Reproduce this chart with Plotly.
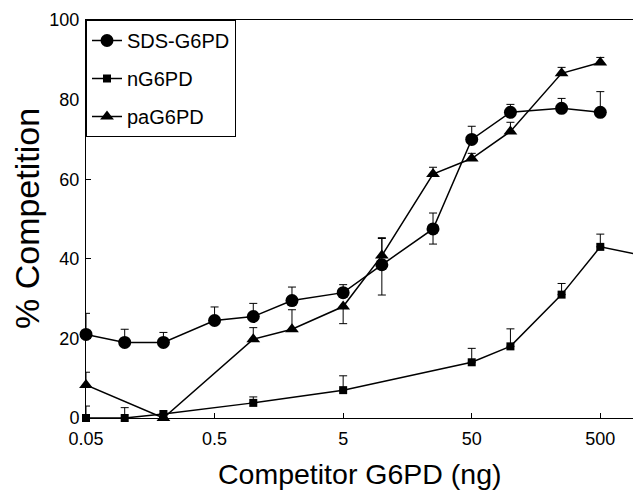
import plotly.graph_objects as go
import math

# SDS-G6PD
sds_x = [0.05, 0.1, 0.2, 0.5, 1, 2, 5, 10, 25, 50, 100, 250, 500]
sds_y = [21, 19, 19, 24.5, 25.5, 29.5, 31.5, 38.5, 47.5, 70, 76.8, 77.8, 76.8]
sds_err_up = [5.3, 3.3, 2.5, 3.4, 3.3, 3.4, 2.0, 6.8, 4.0, 3.3, 2.0, 2.5, 5.2]
sds_err_dn = [0, 0, 0, 0, 0, 0, 0, 7.6, 3.8, 0, 0, 0, 0]

# nG6PD
n_x = [0.05, 0.1, 0.2, 1, 5, 50, 100, 250, 500, 1000]
n_y = [0, 0, 1, 3.8, 7, 14, 18, 31, 43, 41]
n_err_up = [3.0, 2.6, 0, 1.5, 3.6, 3.5, 4.4, 2.8, 3.2, 4.0]
n_err_dn = [0, 0, 0, 0, 0, 0, 0, 0, 0, 0]

# paG6PD
pa_x = [0.05, 0.2, 1, 2, 5, 10, 25, 50, 100, 250, 500]
pa_y = [8.3, 0, 19.8, 22.3, 28, 40.8, 61.3, 65.2, 72, 86.6, 89.3]
pa_err_up = [3.2, 0, 2.9, 4.9, 0, 4.3, 1.7, 1.3, 2.3, 1.5, 1.3]
pa_err_dn = [0, 0, 0, 0, 4.3, 0, 0, 0, 0, 0, 0]

x_ticks = [0.05, 0.5, 5, 50, 500]
x_ticktext = ["0.05", "0.5", "5", "50", "500"]
y_ticks = [0, 20, 40, 60, 80, 100]

x_title = "Competitor G6PD (ng)"
y_title = "% Competition"

FONT = "Liberation Sans, Arial, Helvetica, sans-serif"

fig = go.Figure()

def add(name, x, y, up, dn, symbol, size, group):
    fig.add_trace(go.Scatter(
        x=x, y=y, name=name, mode="lines+markers",
        legendgroup=group,
        line=dict(color="black", width=1.5),
        marker=dict(symbol=symbol, size=size, color="black"),
        error_y=dict(type="data", symmetric=False, array=up, arrayminus=dn,
                     color="black", thickness=1, width=4),
        cliponaxis=False,
    ))

add("SDS-G6PD", sds_x, sds_y, sds_err_up, sds_err_dn, "circle", 13, "a")
add("nG6PD", n_x, n_y, n_err_up, n_err_dn, "square", 8, "b")
add("paG6PD", pa_x, pa_y, pa_err_up, pa_err_dn, "triangle-up", 12, "c")

# page body has an 8px margin, so the figure is sized/placed to compensate
fig.update_layout(
    width=633, height=484,
    margin=dict(l=78, r=2, t=12, b=74),
    paper_bgcolor="white", plot_bgcolor="white",
    font=dict(family=FONT, color="black", size=18),
    showlegend=True,
    legend=dict(x=0, y=1, xanchor="left", yanchor="top",
                bgcolor="white", bordercolor="black", borderwidth=1,
                font=dict(size=20), tracegroupgap=9, itemwidth=30,
                traceorder="grouped"),
    annotations=[
        dict(text=x_title, xref="paper", yref="paper", x=0.495, y=0,
             xanchor="center", yanchor="middle", yshift=-56, showarrow=False,
             font=dict(size=28.5)),
        dict(text=y_title, xref="paper", yref="paper", x=0, y=0.5,
             xanchor="center", yanchor="middle", xshift=-59, showarrow=False,
             textangle=-90, font=dict(size=34)),
    ],
)
fig.update_xaxes(
    type="log", range=[math.log10(0.05), 3.0],
    tickvals=x_ticks, ticktext=x_ticktext,
    ticks="inside", ticklen=5, tickcolor="black",
    showline=True, linecolor="black", linewidth=1, mirror=True,
    showgrid=False, zeroline=False, automargin=False,
    ticklabelstandoff=4,
    tickfont=dict(size=18),
)
fig.update_yaxes(
    range=[0, 100], tickvals=y_ticks,
    ticks="inside", ticklen=5, tickcolor="black",
    showline=True, linecolor="black", linewidth=1, mirror=True,
    showgrid=False, zeroline=False, automargin=False,
    ticklabelstandoff=2,
    tickfont=dict(size=18),
)

fig.write_html("out.html")
